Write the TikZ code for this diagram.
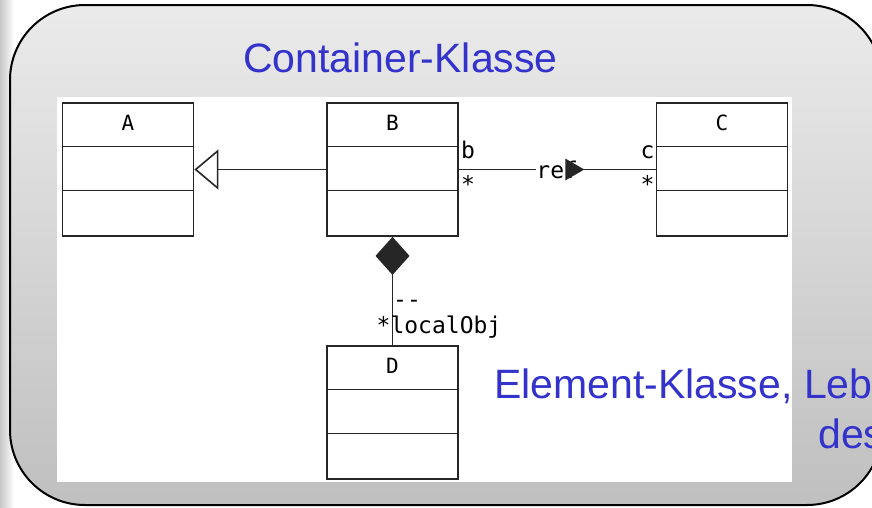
\documentclass[tikz,border=0pt]{standalone}
\usepackage{fontspec}
\setmainfont{Liberation Sans}
\setmonofont{DejaVu Sans Mono}
\usetikzlibrary{arrows.meta,positioning,calc}
\definecolor{titleblue}{HTML}{3333CC}
\definecolor{umlink}{HTML}{262626}

\begin{document}
\begin{tikzpicture}[x=1pt,y=-1pt,
    umlclass/.style={draw=umlink, line width=1.8pt, fill=white, minimum width=131pt,
                     minimum height=133pt, inner sep=0pt},
    umlline/.style={draw=umlink, line width=1.6pt},
    clsname/.style={font=\fontsize{21}{21}\selectfont\ttfamily, inner sep=0pt, anchor=base},
    rolelbl/.style={font=\fontsize{23}{23}\selectfont\ttfamily, inner sep=0pt},
    headline/.style={font=\fontsize{41}{41}\selectfont, text=titleblue, inner sep=0pt,
                     anchor=base west}
  ]
  \useasboundingbox (0,0) rectangle (872,507);
  \fill[white] (0,0) rectangle (872,507);
  \shade[left color=black!22, right color=white] (0,0) rectangle (14,507);

  % slide panel and the pasted diagram
  \path[draw=black, line width=2pt, top color=black!8, bottom color=black!25,
        rounded corners=75pt] (10,5) rectangle (882,505);
  \fill[white] (57,97) rectangle (792,482);

  \foreach \cls/\cx/\cy in {A/128/169.5, B/392.5/169.5, C/722/169.5, D/392.5/412.5} {
    \node[umlclass] (\cls) at (\cx,\cy) {};
    \node[clsname] (\cls-name) at ($(\cls.north)+(0,28)$) {\cls};
    \draw[umlline] ($(\cls.north west)+(0,44.5)$) -- ($(\cls.north east)+(0,44.5)$);
    \draw[umlline] ($(\cls.north west)+(0,88.5)$) -- ($(\cls.north east)+(0,88.5)$);
  }

  % generalization B -> A
  \draw[umlline, -{Triangle[open, length=24pt, width=40pt]}] (B.west) -- (A.east);

  % association B -> C
  \draw[umlline] (B.east) -- node[rolelbl, fill=white] (ref) {ref} (C.west);
  \fill[umlink] ($(ref.center)+(8,-11)$) -- ($(ref.center)+(27,0)$)
    -- ($(ref.center)+(8,11)$) -- cycle;
  \node[rolelbl, anchor=base west] (b-role) at ($(B.east)+(2,-11.5)$) {b};
  \node[rolelbl, anchor=base west] (b-mult) at ($(B.east)+(2,23)$) {*};
  \node[rolelbl, anchor=base east] (c-role) at ($(C.west)+(-1,-11.5)$) {c};
  \node[rolelbl, anchor=base east] (c-mult) at ($(C.west)+(-1,23)$) {*};

  % composition B <>- D
  \draw[umlline, {Diamond[length=38pt, width=34pt]}-] (B.south) -- (D.north);
  \node[rolelbl, anchor=base west] (d-dash) at ($(D.north)+(0.5,-38)$) {-\kern0pt-};
  \node[rolelbl, anchor=base west] (d-role) at ($(D.north)+(-16,-12)$) {*localObj};

  \node[headline] (container) at (243,72) {Container-Klasse};
  \node[headline] (element) at (494,398) {Element-Klasse, Leb};
  \node[headline] (element-2) at (818,448) {des};
\end{tikzpicture}
\end{document}
